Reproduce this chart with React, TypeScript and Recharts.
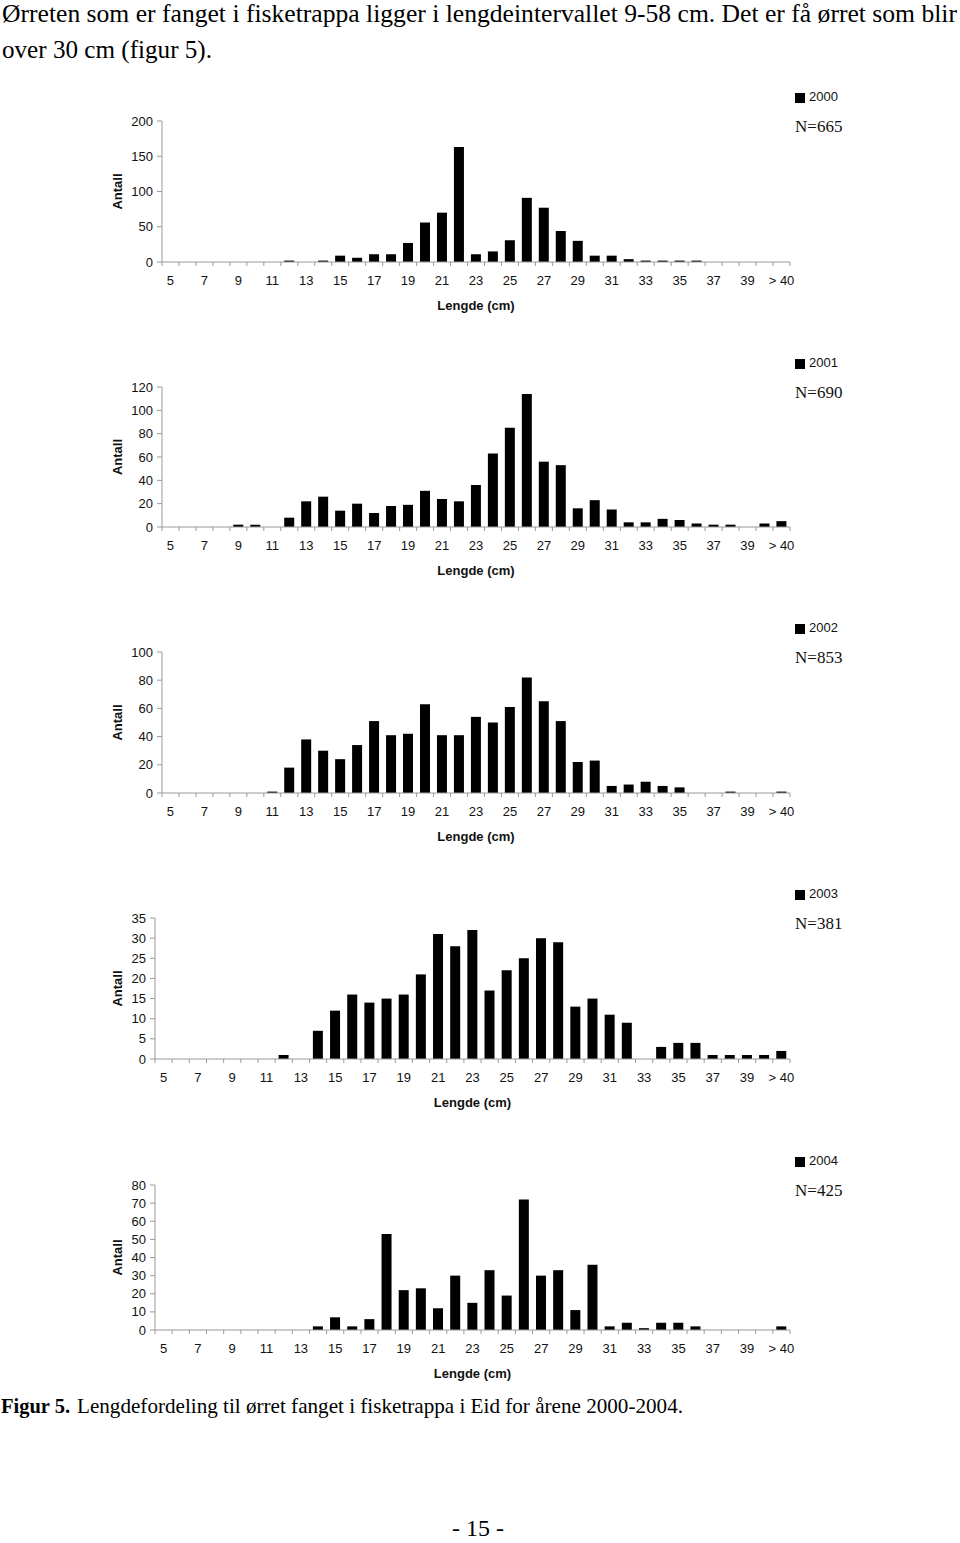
import { Bar, BarChart, Legend, XAxis, YAxis } from 'recharts'

// length classes (cm)
const lengths = [
  '5', '6', '7', '8', '9', '10', '11', '12', '13', '14', '15', '16', '17', '18', '19', '20', '21', '22', '23',
  '24', '25', '26', '27', '28', '29', '30', '31', '32', '33', '34', '35', '36', '37', '38', '39', '40', '> 40',
]

const antall2000 = [0, 0, 0, 0, 0, 0, 0, 2, 0, 2, 9, 6, 11, 11, 27, 56, 70, 163, 11, 15, 31, 91, 77, 44, 30, 9, 9, 4, 2, 2, 2, 2, 0, 0, 0, 0, 0]
const antall2001 = [0, 0, 0, 0, 2, 2, 0, 8, 22, 26, 14, 20, 12, 18, 19, 31, 24, 22, 36, 63, 85, 114, 56, 53, 16, 23, 15, 4, 4, 7, 6, 3, 2, 2, 0, 3, 5]
const antall2002 = [0, 0, 0, 0, 0, 0, 1, 18, 38, 30, 24, 34, 51, 41, 42, 63, 41, 41, 54, 50, 61, 82, 65, 51, 22, 23, 5, 6, 8, 5, 4, 0, 0, 1, 0, 0, 1]
const antall2003 = [0, 0, 0, 0, 0, 0, 0, 1, 0, 7, 12, 16, 14, 15, 16, 21, 31, 28, 32, 17, 22, 25, 30, 29, 13, 15, 11, 9, 0, 3, 4, 4, 1, 1, 1, 1, 2]
const antall2004 = [0, 0, 0, 0, 0, 0, 0, 0, 0, 2, 7, 2, 6, 53, 22, 23, 12, 30, 15, 33, 19, 72, 30, 33, 11, 36, 2, 4, 1, 4, 4, 2, 0, 0, 0, 0, 2]

const ticks2000 = [0, 50, 100, 150, 200]
const ticks2001 = [0, 20, 40, 60, 80, 100, 120]
const ticks2002 = [0, 20, 40, 60, 80, 100]
const ticks2003 = [0, 5, 10, 15, 20, 25, 30, 35]
const ticks2004 = [0, 10, 20, 30, 40, 50, 60, 70, 80]

const W = 960
const AXIS = '#9a9a9a'
const SANS = '"Liberation Sans", Arial, sans-serif'
const SERIF = '"Liberation Serif", "Times New Roman", serif'

function LengthTick(props: any) {
  const { x, y, payload, index, band, count } = props
  return (
    <g>
      <line x1={x - band / 2} y1={y} x2={x - band / 2} y2={y + 4} stroke={AXIS} />
      {index === count - 1 && <line x1={x + band / 2} y1={y} x2={x + band / 2} y2={y + 4} stroke={AXIS} />}
      {index % 2 === 0 && (
        <text x={x} y={y + 23} textAnchor="middle" fontSize={13} fill="#111" fontFamily={SANS}>
          {payload.value}
        </text>
      )}
    </g>
  )
}

type PanelProps = {
  year: string
  values: number[]
  total: number
  ticks: number[]
  plotTop: number
  plotBottom: number
  plotLeft: number
  plotRight: number
}

function Panel({ year, values, total, ticks, plotTop, plotBottom, plotLeft, plotRight }: PanelProps) {
  const data = lengths.map((l, i) => ({ lengde: l, antall: values[i] }))
  const top = 40
  const bottom = 8
  const xAxisH = 48
  const yAxisW = 50
  const height = plotBottom - plotTop + top + xAxisH + bottom
  const band = (plotRight - plotLeft) / lengths.length
  return (
    <div style={{ position: 'absolute', left: 0, top: plotTop - top, width: W, height, fontFamily: SANS }}>
      <BarChart
        width={W}
        height={height}
        data={data}
        margin={{ top, right: W - plotRight, bottom, left: plotLeft - yAxisW }}
        barCategoryGap="20%"
      >
        <XAxis
          dataKey="lengde"
          interval={0}
          height={xAxisH}
          tickSize={0}
          tickMargin={0}
          tickLine={false}
          stroke={AXIS}
          tick={<LengthTick band={band} count={lengths.length} />}
          label={{ value: 'Lengde (cm)', position: 'insideBottom', offset: 0, fill: '#111', fontSize: 13, fontWeight: 700 }}
        />
        <YAxis
          width={yAxisW}
          domain={[0, ticks[ticks.length - 1]]}
          ticks={ticks}
          interval={0}
          tickSize={5}
          tickMargin={4}
          stroke={AXIS}
          tick={{ fill: '#111', fontSize: 13 }}
          label={{
            value: 'Antall',
            angle: -90,
            position: 'insideLeft',
            offset: 117 - (plotLeft - yAxisW),
            fill: '#111',
            fontSize: 13,
            fontWeight: 700,
            style: { textAnchor: 'middle' },
          }}
        />
        <Legend
          layout="horizontal"
          align="center"
          verticalAlign="middle"
          iconType="square"
          iconSize={10}
          wrapperStyle={{ left: 795, top: 8, width: 'auto', fontSize: 13, lineHeight: '16px', color: '#111' }}
          formatter={(v: string) => <span style={{ color: '#111' }}>{v}</span>}
        />
        <Bar dataKey="antall" name={year} fill="#000" isAnimationActive={false} />
      </BarChart>
      <div style={{ position: 'absolute', left: 795, top: 36, fontFamily: SERIF, fontSize: 17, lineHeight: '20px', color: '#111' }}>
        N={total}
      </div>
    </div>
  )
}

export default function App() {
  return (
    <div style={{ position: 'absolute', left: 0, top: 0, width: W, height: 1543, background: '#fff' }}>
      <svg width={W} height={1543} style={{ position: 'absolute', left: 0, top: 0 }}>
        <text x={2} y={22} fontFamily={SERIF} fontSize={25} textLength={955} lengthAdjust="spacingAndGlyphs" fill="#000">
          Ørreten som er fanget i fisketrappa ligger i lengdeintervallet 9-58 cm. Det er få ørret som blir
        </text>
        <text x={2} y={58} fontFamily={SERIF} fontSize={25} textLength={210} lengthAdjust="spacingAndGlyphs" fill="#000">
          over 30 cm (figur 5).
        </text>
        <text x={1} y={1413} fontFamily={SERIF} fontSize={22} fontWeight={700} textLength={69} lengthAdjust="spacingAndGlyphs" fill="#000">
          Figur 5.
        </text>
        <text x={77} y={1413} fontFamily={SERIF} fontSize={22} textLength={606} lengthAdjust="spacingAndGlyphs" fill="#000">
          Lengdefordeling til ørret fanget i fisketrappa i Eid for årene 2000-2004.
        </text>
        <text x={478} y={1536} fontFamily={SERIF} fontSize={24} textAnchor="middle" fill="#000">
          - 15 -
        </text>
      </svg>
      <Panel year="2000" values={antall2000} total={665} ticks={ticks2000} plotTop={121} plotBottom={262} plotLeft={162} plotRight={790} />
      <Panel year="2001" values={antall2001} total={690} ticks={ticks2001} plotTop={387} plotBottom={527} plotLeft={162} plotRight={790} />
      <Panel year="2002" values={antall2002} total={853} ticks={ticks2002} plotTop={652} plotBottom={793} plotLeft={162} plotRight={790} />
      <Panel year="2003" values={antall2003} total={381} ticks={ticks2003} plotTop={918} plotBottom={1059} plotLeft={155} plotRight={790} />
      <Panel year="2004" values={antall2004} total={425} ticks={ticks2004} plotTop={1185} plotBottom={1330} plotLeft={155} plotRight={790} />
    </div>
  )
}
